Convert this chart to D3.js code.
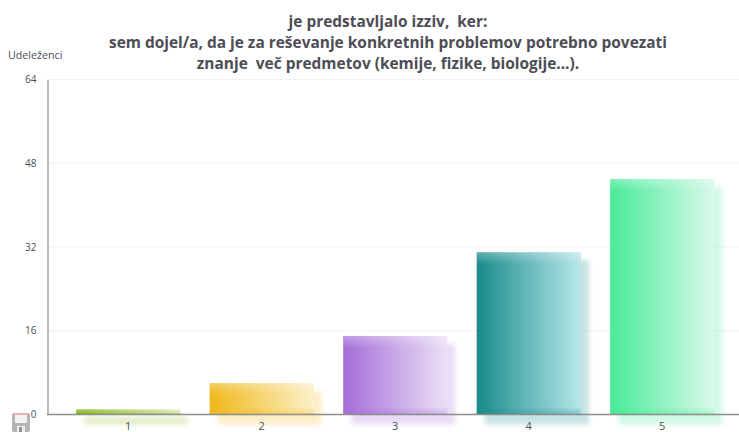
<!DOCTYPE html>
<html>
<head>
<meta charset="utf-8">
<script src="https://cdnjs.cloudflare.com/ajax/libs/d3/7.8.5/d3.min.js"></script>
<style>
  html, body { margin: 0; padding: 0; background: #fff; }
  svg { display: block; }
  text { font-family: "Open Sans", sans-serif; fill: #4d4d55; }
</style>
</head>
<body>
<div id="chart"></div>
<script>
const categories = ['1', '2', '3', '4', '5'];
const counts = [1, 6, 15, 31, 45];
const yTicks = [0, 16, 32, 48, 64];
const titleLines = [
  'je predstavljalo izziv,  ker:',
  'sem dojel/a, da je za reševanje konkretnih problemov potrebno povezati',
  'znanje  več predmetov (kemije, fizike, biologije...).'
];
const yLabel = 'Udeleženci';
const startColors = ['#84b414', '#efb81a', '#a46ed8', '#198a8a', '#48ea98'];
const endColors = ['#e6f1d0', '#fcf0c8', '#ebe0f6', '#b8e7ea', '#d9f9ea'];

const width = 739, height = 432;
const svg = d3.select('#chart').append('svg')
  .attr('width', width)
  .attr('height', height);

const x = d3.scaleBand().domain(categories).range([61.5, 729]).paddingInner(0.22).paddingOuter(0.11);
const y = d3.scaleLinear().domain([0, 64]).range([414.5, 79.5]);

const defs = svg.append('defs');
const blur = defs.append('filter').attr('id', 'soft')
  .attr('filterUnits', 'userSpaceOnUse')
  .attr('x', 0).attr('y', 0).attr('width', width).attr('height', height);
blur.append('feGaussianBlur').attr('stdDeviation', 2.5);

categories.forEach((c, i) => {
  const g = defs.append('linearGradient').attr('id', 'bar' + i);
  g.append('stop').attr('offset', '0%').attr('stop-color', startColors[i]);
  g.append('stop').attr('offset', '100%').attr('stop-color', endColors[i]);

  // darker band at the foot of the bar
  const foot = defs.append('linearGradient').attr('id', 'foot' + i)
    .attr('x1', 0).attr('y1', 0).attr('x2', 0).attr('y2', 1);
  foot.append('stop').attr('offset', '0%').attr('stop-color', startColors[i]).attr('stop-opacity', 0);
  foot.append('stop').attr('offset', '100%').attr('stop-color', startColors[i]).attr('stop-opacity', 0.35);
});

// white fade on top of each bar
const fade = defs.append('linearGradient').attr('id', 'topFade')
  .attr('x1', 0).attr('y1', 0).attr('x2', 0).attr('y2', 1);
fade.append('stop').attr('offset', '0%').attr('stop-color', '#fff').attr('stop-opacity', 0.3);
fade.append('stop').attr('offset', '100%').attr('stop-color', '#fff').attr('stop-opacity', 0);

// grid lines
svg.append('g').selectAll('line')
  .data(yTicks.filter(d => d > 0))
  .join('line')
  .attr('x1', 47).attr('x2', width)
  .attr('y1', d => y(d)).attr('y2', d => y(d))
  .attr('stroke', '#f2f2f2')
  .attr('stroke-width', 1);

// shadows
svg.append('g').selectAll('rect')
  .data(categories)
  .join('rect')
  .attr('x', d => x(d) + 8)
  .attr('y', (d, i) => y(counts[i]) + 8)
  .attr('width', x.bandwidth())
  .attr('height', (d, i) => y(0) - y(counts[i]) + 2)
  .attr('fill', (d, i) => startColors[i])
  .attr('opacity', 0.24)
  .attr('filter', 'url(#soft)');

// bars
svg.append('g').selectAll('rect')
  .data(categories)
  .join('rect')
  .attr('x', d => x(d))
  .attr('y', (d, i) => y(counts[i]))
  .attr('width', x.bandwidth())
  .attr('height', (d, i) => y(0) - y(counts[i]))
  .attr('fill', (d, i) => `url(#bar${i})`);

svg.append('g').selectAll('rect')
  .data(categories)
  .join('rect')
  .attr('x', d => x(d))
  .attr('y', (d, i) => y(counts[i]))
  .attr('width', x.bandwidth())
  .attr('height', (d, i) => Math.min(12, y(0) - y(counts[i])))
  .attr('fill', 'url(#topFade)');

svg.append('g').selectAll('rect')
  .data(categories)
  .join('rect')
  .attr('x', d => x(d))
  .attr('y', (d, i) => Math.max(y(counts[i]), y(0) - 8))
  .attr('width', x.bandwidth())
  .attr('height', (d, i) => Math.min(8, y(0) - y(counts[i])))
  .attr('fill', (d, i) => `url(#foot${i})`);

// axes
const yAxis = svg.append('g')
  .attr('transform', 'translate(47.5,0)')
  .call(d3.axisLeft(y).tickValues(yTicks).tickSize(0).tickPadding(11));
yAxis.select('.domain').attr('stroke', '#8c8c8c').attr('stroke-width', 1.2);
yAxis.selectAll('text').attr('font-size', 10).style('font-family', '"Open Sans", sans-serif').attr('fill', '#4d4d55');

const xAxis = svg.append('g')
  .attr('transform', 'translate(0,414.5)');
xAxis.append('line')
  .attr('x1', 47).attr('x2', width).attr('stroke', '#8c8c8c').attr('stroke-width', 1.6);
xAxis.selectAll('text')
  .data(categories)
  .join('text')
  .attr('x', d => x(d) + x.bandwidth() / 2)
  .attr('y', 15)
  .attr('text-anchor', 'middle')
  .attr('font-size', 11)
  .text(d => d);

svg.append('text')
  .attr('x', 8).attr('y', 59)
  .attr('font-size', 10.7)
  .text(yLabel);

svg.append('g').selectAll('text')
  .data(titleLines)
  .join('text')
  .attr('x', 388)
  .attr('y', (d, i) => 26.5 + i * 21)
  .attr('text-anchor', 'middle')
  .attr('font-size', 15.45)
  .attr('font-weight', 700)
  .attr('xml:space', 'preserve')
  .style('white-space', 'pre')
  .text(d => d);

// save icon
const icon = svg.append('g').attr('transform', 'translate(12,413)');
icon.append('rect').attr('width', 18).attr('height', 19).attr('rx', 2).attr('fill', '#b4b4b4');
icon.append('rect').attr('x', 2).attr('width', 14).attr('height', 2).attr('fill', '#e8b0b0');
icon.append('rect').attr('x', 3).attr('y', 2).attr('width', 12).attr('height', 8).attr('fill', '#f2f2f2');
icon.append('rect').attr('x', 5).attr('y', 13).attr('width', 8).attr('height', 6).attr('fill', '#eeeeee');
icon.append('rect').attr('x', 7).attr('y', 14).attr('width', 3).attr('height', 5).attr('fill', '#959595');
</script>
</body>
</html>
